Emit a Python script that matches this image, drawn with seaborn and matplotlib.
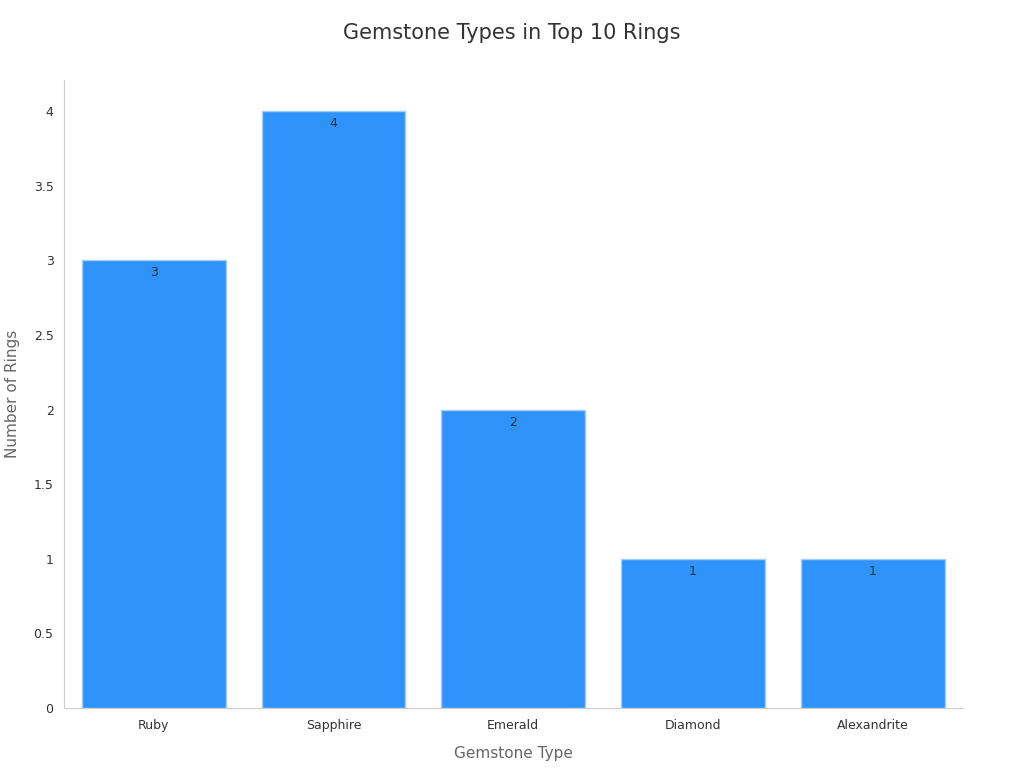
import matplotlib
matplotlib.use("Agg")
import matplotlib.pyplot as plt
import seaborn as sns
import pandas as pd

gemstones = ["Ruby", "Sapphire", "Emerald", "Diamond", "Alexandrite"]
counts = [3, 4, 2, 1, 1]

df = pd.DataFrame({"Gemstone Type": gemstones, "Number of Rings": counts})

sns.set_style("white")
fig = plt.figure(figsize=(10.24, 7.68), dpi=100)
ax = fig.add_axes([0.0625, 0.078, 0.8775, 0.818])

sns.barplot(data=df, x="Gemstone Type", y="Number of Rings", color="#2E93FA",
            saturation=1, width=0.8, edgecolor="#a8cdf5", linewidth=1, ax=ax)

for i, v in enumerate(counts):
    ax.text(i, v - 0.04, str(v), ha="center", va="top", fontsize=9, color="#333333")

ax.set_xlim(-0.5, 4.5)
ax.set_ylim(0, 4.21)
ax.set_yticks([0, 0.5, 1, 1.5, 2, 2.5, 3, 3.5, 4])
ax.set_yticklabels(["0", "0.5", "1", "1.5", "2", "2.5", "3", "3.5", "4"])
ax.tick_params(axis="both", labelsize=9, colors="#333333", length=4)
ax.tick_params(axis="x", length=0, pad=8)
ax.tick_params(axis="y", color="#999999")
for s in ["top", "right"]:
    ax.spines[s].set_visible(False)
for s in ["left", "bottom"]:
    ax.spines[s].set_color("#cccccc")
ax.set_xlabel("Gemstone Type", fontsize=11, color="#666666", labelpad=10)
ax.set_ylabel("Number of Rings", fontsize=11, color="#666666", labelpad=10)
fig.suptitle("Gemstone Types in Top 10 Rings", fontsize=15, color="#333333", y=0.97)

fig.savefig("out.png", dpi=100)
